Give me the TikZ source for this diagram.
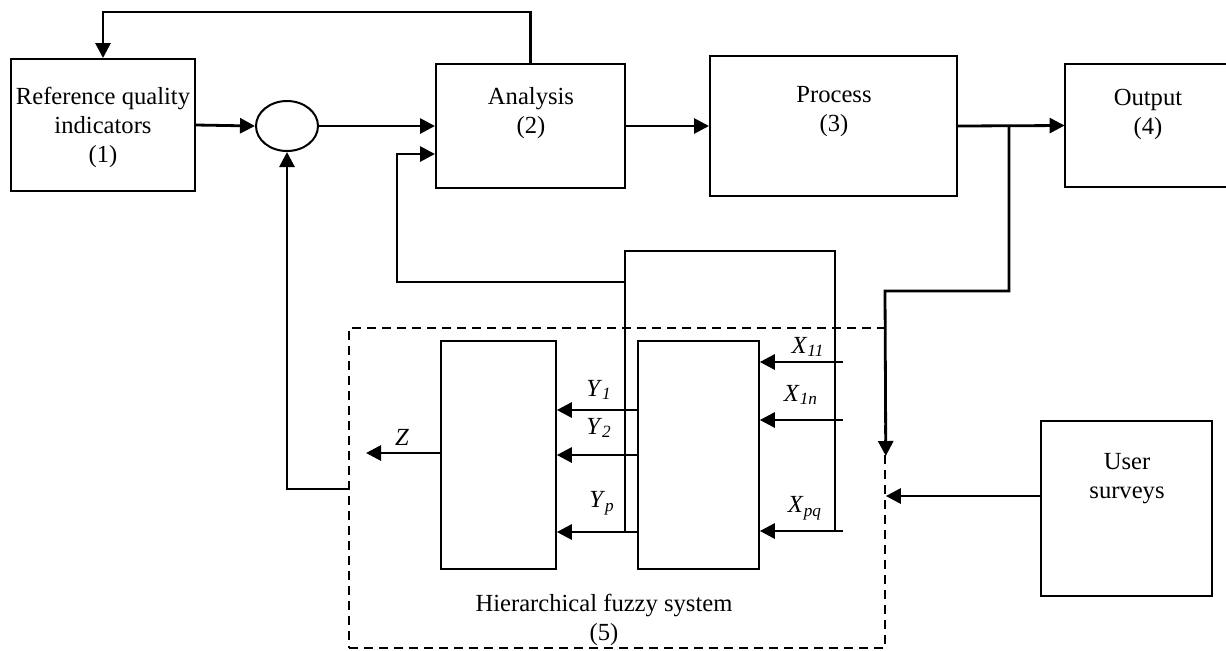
\documentclass[tikz,border=0pt]{standalone}
\usepackage{fontspec}
\setmainfont{Liberation Serif}
\usetikzlibrary{arrows.meta,positioning,shapes.geometric}
\newcommand{\subv}[2]{\textit{#1}\textsubscript{\textit{#2}}}
\tikzset{
  box/.style={rectangle, draw, line width=1pt, inner sep=0pt},
  fbox/.style={rectangle, draw, line width=0.8pt, inner sep=0pt, minimum height=114pt},
  txt/.style={align=center, inner sep=0pt, font=\fontsize{12.3}{14.5}\selectfont},
  var/.style={inner sep=0pt, font=\fontsize{12.3}{14.5}\selectfont},
  ar/.style={-{Triangle[length=7.5pt,width=7.5pt]}, line width=1.4pt},
  ln/.style={line width=1.4pt},
  tln/.style={line width=0.8pt},
}

\begin{document}
\begin{tikzpicture}[x=0.5pt,y=-0.5pt]
\useasboundingbox (0,0) rectangle (1226,650);
% main chain
\node[box,minimum width=92pt,minimum height=66pt] (ref) at (103,125) {};
\node[txt] (reft) at (103,127) {Reference quality\\indicators\\(1)};
\node[ellipse,draw,line width=1pt,minimum width=31pt,minimum height=25pt,inner sep=0pt] (sum) at (287,126) {};
\node[box,minimum width=94.5pt,minimum height=62pt] (ana) at (530.5,126) {};
\node[txt] (anat) at (531,113) {Analysis\\(2)};
\node[box,minimum width=123.5pt,minimum height=70pt] (proc) at (833.5,126) {};
\node[txt] (proct) at (834,112) {Process\\(3)};
\node[rectangle,inner sep=0pt,minimum width=82.5pt,minimum height=61.5pt] (out) at (1147.5,125.5) {};
\draw[line width=1pt] (out.north east) -- (out.north west) -- (out.south west) -- (out.south east);
\node[txt] (outt) at (1148,114) {Output\\(4)};
\node[box,minimum width=85.5pt,minimum height=87.5pt] (usr) at (1126.5,508.5) {};
\node[txt] (usrt) at (1127,479) {User\\surveys};

% fuzzy system
\node[rectangle,draw,dashed,dash pattern=on 4.5pt off 3pt,line width=0.8pt,inner sep=0pt,
      minimum width=268pt,minimum height=160pt] (hfs) at (617,488) {};
\node[txt] (hfst) at (604,620) {Hierarchical fuzzy system\\(5)};
\node[fbox,minimum width=57.5pt] (fz2) at (498.5,455) {};
\node[fbox,minimum width=60.5pt] (fz1) at (698.5,455) {};

\coordinate (top) at (0,12);
\coordinate (br) at (1009,126);
\coordinate (dn) at (885,291);
\coordinate (fbr) at (835,251);
\coordinate (fbl) at (625,251);
\coordinate (fbk) at (625,282);
\coordinate (fbc) at (397,282);
\coordinate (zout) at (366,453);

% connectors
\draw[ar] (ref.east) -- (sum.west);
\draw[ar] (sum.east) -- (ana.west);
\draw[ar] (ana.north) -- (ana.north |- top) -| (ref.north);
\draw[ar] (ana.east) -- (proc.west);
\draw[ar] (proc.east) -- (out.west);
\draw[ar] (br) |- (dn) -- (hfs.east |- 0,456);
\draw[ar] (usr.west |- 0,496) -- (hfs.east |- 0,496);
\draw[ar] (hfs.west |- 0,489) -| (sum.south);
\draw[ar] (fz2.west |- zout) -- (zout);
\draw[tln] (835,531) -- (fbr) -- (fbl) -- (625,532);
\draw[ar] (fbk) -- (fbc) |- ([yshift=-14pt]ana.west);
\foreach \yy in {410,455,532}
  \draw[ar] (fz1.west |- 0,\yy) -- (fz2.east |- 0,\yy);
\foreach \yy in {362,420,531}
  \draw[ar] (843,\yy) -- (fz1.east |- 0,\yy);

% labels
\node[var] (zl) at (402,437) {\textit{Z}};
\node[var] (y1) at (599,390) {\subv{Y}{1}};
\node[var] (y2) at (599,428) {\subv{Y}{2}};
\node[var] (yp) at (602,503) {\subv{Y}{p}};
\node[var] (x11) at (808,347) {\subv{X}{11}};
\node[var] (x1n) at (801,395) {\subv{X}{1n}};
\node[var] (xpq) at (805,508) {\subv{X}{pq}};
\end{tikzpicture}
\end{document}
